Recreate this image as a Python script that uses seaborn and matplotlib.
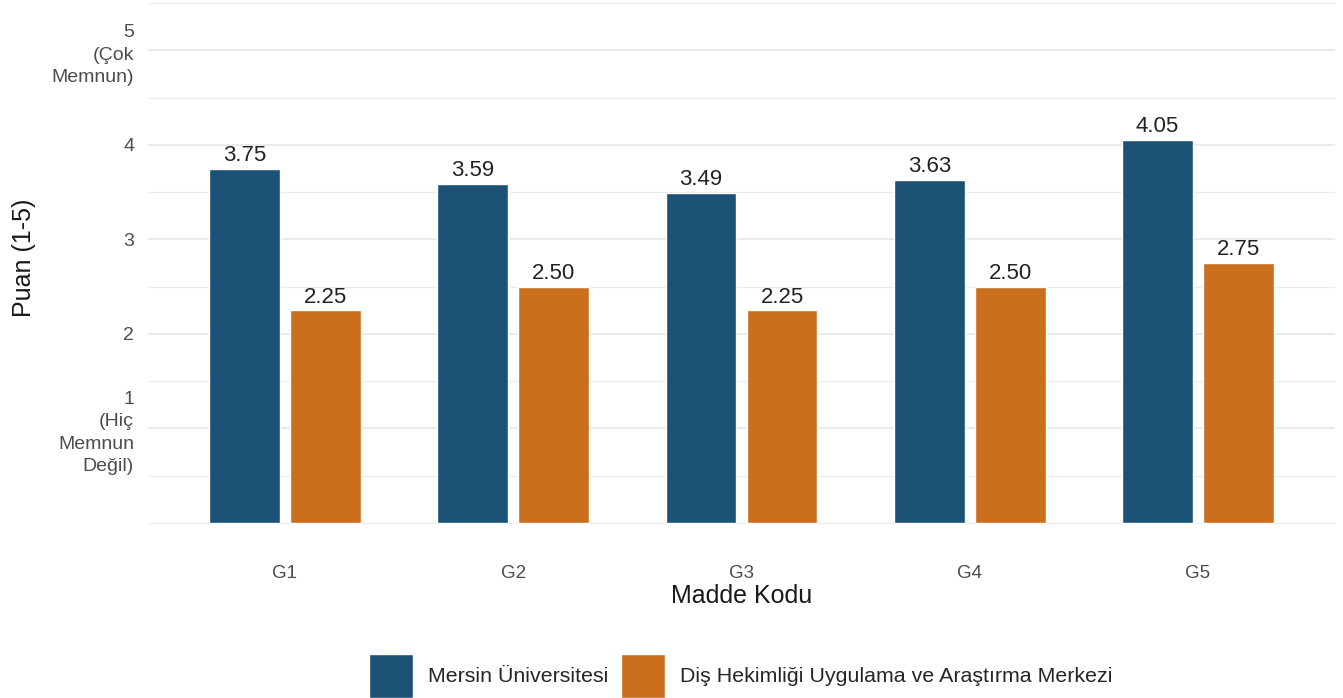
import numpy as np
import pandas as pd
import matplotlib
matplotlib.use("Agg")
import matplotlib.pyplot as plt
import seaborn as sns

# data
items = ["G1", "G2", "G3", "G4", "G5"]
mersin = [3.75, 3.59, 3.49, 3.63, 4.05]
dis_hek = [2.25, 2.50, 2.25, 2.50, 2.75]
groups = ["Mersin Üniversitesi", "Diş Hekimliği Uygulama ve Araştırma Merkezi"]
y_ticks = [1, 2, 3, 4, 5]
y_tick_labels = ["1\n(Hiç\nMemnun\nDeğil)", "2", "3", "4", "5\n(Çok\nMemnun)"]

df = pd.DataFrame({
    "Madde": items * 2,
    "Grup": [groups[0]] * len(items) + [groups[1]] * len(items),
    "Puan": mersin + dis_hek,
})

sns.set_theme(style="white")
plt.rcParams["font.family"] = ["Liberation Sans", "DejaVu Sans"]

palette = {groups[0]: "#1B5276", groups[1]: "#CA6F1E"}

fig = plt.figure(figsize=(13.43, 6.98), dpi=100)
ax = fig.add_axes([148 / 1343, 1 - 559 / 698, (1335 - 148) / 1343, 559 / 698])

sns.barplot(data=df, x="Madde", y="Puan", hue="Grup", palette=palette,
            width=0.71, gap=0.13, saturation=1, ax=ax, legend=True)

for cont in ax.containers:
    ax.bar_label(cont, fmt="%.2f", padding=2, fontsize=16, color="#222222")

ax.set_xlim(-0.6, 4.6)
ax.set_ylim(-0.381, 5.534)

# grid like ggplot minimal: major + minor horizontal lines
for v in np.arange(0, 5.51, 0.5):
    major = float(v).is_integer() and v > 0
    ax.axhline(v, color="#EBEBEB", lw=1.4 if major else 0.8, zorder=0)

ax.set_yticks(y_ticks)
ax.set_yticklabels(y_tick_labels, fontsize=14, color="#4D4D4D",
                   linespacing=1.4, ha="right", multialignment="right")
ax.tick_params(axis="y", length=0, pad=10)
ax.tick_params(axis="x", length=0, pad=4, labelsize=13.5, labelcolor="#4D4D4D")

ax.set_xlabel("Madde Kodu", fontsize=18, color="#1a1a1a", labelpad=2)
ax.set_ylabel("")
fig.text(24 / 1343, 1 - 258 / 698, "Puan (1-5)", rotation=90, ha="center", va="center",
         fontsize=18, color="#1a1a1a")

for s in ax.spines.values():
    s.set_visible(False)

handles, labels = ax.get_legend_handles_labels()
ax.get_legend().remove()
fig.legend(handles, labels, loc="center", bbox_to_anchor=(741 / 1343, 1 - 676 / 698),
           ncol=2, frameon=False, fontsize=15.4, handlelength=2.05, handleheight=2.75,
           handletextpad=0.7, columnspacing=0.6, borderpad=0)

fig.savefig("out.png", dpi=100)
